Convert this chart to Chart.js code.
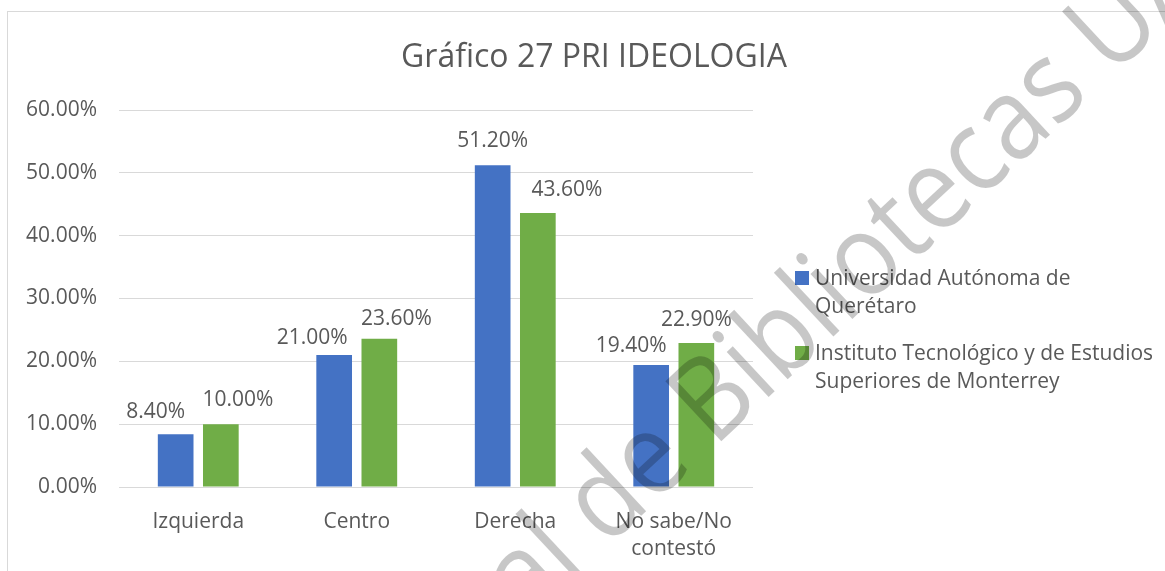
<!DOCTYPE html>
<html>
<head>
<meta charset="utf-8">
<script src="https://cdn.jsdelivr.net/npm/chart.js@4.4.1/dist/chart.umd.min.js"></script>
<style>
  html, body { margin: 0; padding: 0; background: #ffffff; }
  #wrap { width: 1165px; height: 571px; }
</style>
</head>
<body>
<div id="wrap"><canvas id="grafico" width="1165" height="571"></canvas></div>
<script>
var chart_title = "Gráfico 27 PRI IDEOLOGIA";
var categories = ["Izquierda", "Centro", "Derecha", ["No sabe/No", "contestó"]];
var series_names = [
    "Universidad Autónoma de Querétaro",
    "Instituto Tecnológico y de Estudios Superiores de Monterrey"
];
var uaq_values = [8.4, 21.0, 51.2, 19.4];
var itesm_values = [10.0, 23.6, 43.6, 22.9];
var y_ticks_max = 60;
var y_ticks_step = 10;
var watermark_text = "Dirección General de Bibliotecas UAQ";

var blue = "#4472C4";
var green = "#70AD47";
var text_color = "#595959";
var grid_color = "#d9d9d9";
var font_family = "'Open Sans', sans-serif";

// manual nudges of the value labels (Excel moved some of them by hand)
var label_dx = [[-20, -22, 0, -20], [17, 17, 29, 0]];
var label_dy = [[-16, -11, -18, -13], [-18, -14, -17, -17]];

function pct(v) {
    return v.toFixed(2) + "%";
}

function wrapText(ctx, text, max_width) {
    let words = text.split(" ");
    let lines = [];
    let line = "";
    for (let i = 0; i < words.length; i++) {
        let test = line ? line + " " + words[i] : words[i];
        if (ctx.measureText(test).width > max_width && line) {
            lines.push(line);
            line = words[i];
        } else {
            line = test;
        }
    }
    lines.push(line);
    return lines;
}

var extras = {
    id: "extras",
    beforeDraw: function (chart) {
        let ctx = chart.ctx;
        ctx.save();
        ctx.fillStyle = "#ffffff";
        ctx.fillRect(0, 0, chart.width, chart.height);
        ctx.strokeStyle = grid_color;
        ctx.lineWidth = 1;
        ctx.strokeRect(7.5, 11.5, 1300, 700);
        ctx.restore();
    },
    afterDatasetsDraw: function (chart) {
        let ctx = chart.ctx;
        ctx.save();
        ctx.fillStyle = text_color;

        // title
        ctx.font = "32px " + font_family;
        ctx.textAlign = "center";
        ctx.textBaseline = "alphabetic";
        ctx.fillText(chart_title, 594, 67);

        // value labels
        ctx.font = "21px " + font_family;
        chart.data.datasets.forEach(function (ds, i) {
            let meta = chart.getDatasetMeta(i);
            meta.data.forEach(function (bar, j) {
                ctx.fillText(pct(ds.data[j]), bar.x + label_dx[i][j], bar.y + label_dy[i][j]);
            });
        });

        // legend
        ctx.textAlign = "left";
        let legend_x = 795;
        let legend_y = [285, 360];
        chart.data.datasets.forEach(function (ds, i) {
            ctx.fillStyle = ds.backgroundColor;
            ctx.fillRect(legend_x, legend_y[i] - 14, 14, 14);
            ctx.fillStyle = text_color;
            let lines = wrapText(ctx, ds.label, 342);
            for (let k = 0; k < lines.length; k++) {
                ctx.fillText(lines[k], legend_x + 20, legend_y[i] + k * 28);
            }
        });
        ctx.restore();
    },
    afterDraw: function (chart) {
        // watermark of the scanned source, drawn over everything
        let ctx = chart.ctx;
        ctx.save();
        ctx.font = "115px " + font_family;
        ctx.fillStyle = "rgba(0, 0, 0, 0.22)";
        ctx.textBaseline = "alphabetic";
        ctx.translate(714, 448);
        ctx.rotate(-43 * Math.PI / 180);
        ctx.scale(0.89, 1);
        let cut = watermark_text.indexOf("Bibliotecas");
        ctx.textAlign = "right";
        ctx.fillText(watermark_text.slice(0, cut), 0, 0);
        ctx.textAlign = "left";
        ctx.fillText(watermark_text.slice(cut), 0, 0);
        ctx.restore();
    }
};

var ctx = document.getElementById("grafico").getContext("2d");
var chart = new Chart(ctx, {
    type: "bar",
    data: {
        labels: categories,
        datasets: [
            { label: series_names[0], data: uaq_values, backgroundColor: blue },
            { label: series_names[1], data: itesm_values, backgroundColor: green }
        ]
    },
    options: {
        responsive: false,
        animation: false,
        devicePixelRatio: 1,
        categoryPercentage: 0.57,
        barPercentage: 0.79,
        layout: { padding: { left: 0, top: 110, right: 412, bottom: 0 } },
        plugins: {
            legend: { display: false },
            title: { display: false },
            tooltip: { enabled: false }
        },
        scales: {
            x: {
                grid: { display: false },
                border: { display: false },
                ticks: {
                    color: text_color,
                    font: { family: font_family, size: 21, lineHeight: 1.3 },
                    padding: 13,
                    maxRotation: 0,
                    autoSkip: false
                },
                afterFit: function (scale) { scale.height = 84; }
            },
            y: {
                min: 0,
                max: y_ticks_max,
                grid: { color: grid_color, lineWidth: 1, drawTicks: false },
                border: { display: false },
                ticks: {
                    stepSize: y_ticks_step,
                    color: text_color,
                    font: { family: font_family, size: 21 },
                    padding: 22,
                    callback: function (v) { return pct(v); }
                },
                afterFit: function (scale) { scale.width = 119; }
            }
        }
    },
    plugins: [extras]
});
</script>
</body>
</html>
